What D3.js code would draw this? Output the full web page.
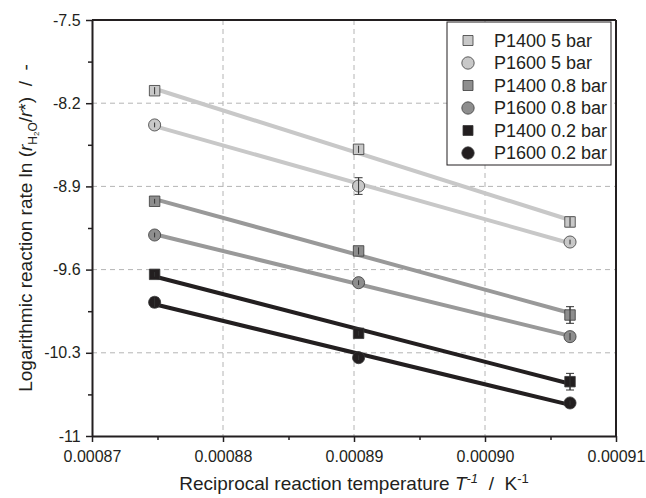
<!DOCTYPE html>
<html><head><meta charset="utf-8">
<script src="https://cdn.jsdelivr.net/npm/d3@7"></script>
<style>
body{margin:0;background:#fff;}
text{font-family:"Liberation Sans",Arial,sans-serif;}
</style></head>
<body><svg id="c" width="646" height="498"></svg>
<script>
const xValues = [0.00087478, 0.00089035, 0.00090649];
const seriesNames = ["P1400 5 bar","P1600 5 bar","P1400 0.8 bar","P1600 0.8 bar","P1400 0.2 bar","P1600 0.2 bar"];
const seriesShapes = ["square","circle","square","circle","square","circle"];
const seriesFill = ["#c8c8c8","#c8c8c8","#8e8e8e","#8e8e8e","#231f20","#231f20"];
const seriesLine = ["#c8c8c8","#c8c8c8","#999999","#999999","#231f20","#231f20"];
const yP1400_5 = [-8.095, -8.588, -9.199];
const yP1600_5 = [-8.383, -8.897, -9.368];
const yP1400_08 = [-9.025, -9.443, -9.982];
const yP1600_08 = [-9.309, -9.710, -10.164];
const yP1400_02 = [-9.640, -10.136, -10.543];
const yP1600_02 = [-9.875, -10.341, -10.722];
const err1400_5 = [0.03, 0.03, 0.04];
const err1600_5 = [0.02, 0.07, 0.02];
const err1400_08 = [0.02, 0.03, 0.07];
const err1600_08 = [0.02, 0.02, 0.03];
const err1400_02 = [0.02, 0.02, 0.07];
const err1600_02 = [0.04, 0.02, 0.02];
const xTicks = [0.00087, 0.00088, 0.00089, 0.00090, 0.00091];
const xTickLabels = ["0.00087","0.00088","0.00089","0.00090","0.00091"];
const yTicks = [-7.5, -8.2, -8.9, -9.6, -10.3, -11];
const yTickLabels = ["-7.5","-8.2","-8.9","-9.6","-10.3","-11"];

const seriesY = [yP1400_5, yP1600_5, yP1400_08, yP1600_08, yP1400_02, yP1600_02];
const seriesErr = [err1400_5, err1600_5, err1400_08, err1600_08, err1400_02, err1600_02];

const svg = d3.select("#c");
const L = 92, R = 616, T = 20, B = 436;
const x = d3.scaleLinear().domain([0.00087, 0.00091]).range([L, R]);
const y = d3.scaleLinear().domain([-11, -7.5]).range([B, T]);

// grid
const g = svg.append("g");
g.selectAll(".gx").data(xTicks.slice(1, -1)).enter().append("line")
  .attr("x1", d => x(d)).attr("x2", d => x(d)).attr("y1", T).attr("y2", B)
  .attr("stroke", "#b4b4b4").attr("stroke-width", 1).attr("stroke-dasharray", "5,4");
g.selectAll(".gy").data(yTicks.slice(1, -1)).enter().append("line")
  .attr("y1", d => y(d)).attr("y2", d => y(d)).attr("x1", L).attr("x2", R)
  .attr("stroke", "#b4b4b4").attr("stroke-width", 1).attr("stroke-dasharray", "5,4");

// fit lines
function fit(xs, ys) {
  const mx = d3.mean(xs), my = d3.mean(ys);
  let sxy = 0, sxx = 0;
  xs.forEach((v, i) => { sxy += (v - mx) * (ys[i] - my); sxx += (v - mx) * (v - mx); });
  const b = sxy / sxx; return [b, my - b * mx];
}
seriesY.forEach((ys, i) => {
  const [b, a] = fit(xValues, ys);
  const x0 = xValues[0], x1 = xValues[xValues.length - 1];
  svg.append("line").attr("x1", x(x0)).attr("x2", x(x1))
    .attr("y1", y(a + b * x0)).attr("y2", y(a + b * x1))
    .attr("stroke", seriesLine[i]).attr("stroke-width", 4);
});

// error bars and markers
seriesY.forEach((ys, i) => {
  const gg = svg.append("g");
  ys.forEach((v, j) => {
    const e = seriesErr[i][j], cx = x(xValues[j]);
    gg.append("line").attr("x1", cx).attr("x2", cx).attr("y1", y(v - e)).attr("y2", y(v + e))
      .attr("stroke", "#333").attr("stroke-width", 1);
    [v - e, v + e].forEach(w => gg.append("line").attr("x1", cx - 4).attr("x2", cx + 4)
      .attr("y1", y(w)).attr("y2", y(w)).attr("stroke", "#333").attr("stroke-width", 1));
  });
  const sym = d3.symbol().type(seriesShapes[i] === "square" ? d3.symbolSquare : d3.symbolCircle)
    .size(seriesShapes[i] === "square" ? 110 : 115);
  gg.selectAll("path.m").data(ys).enter().append("path")
    .attr("transform", (v, j) => `translate(${x(xValues[j])},${y(v)})`)
    .attr("d", sym).attr("fill", seriesFill[i]).attr("stroke", "#3a3a3a").attr("stroke-width", 0.8);
  ys.forEach((v, j) => {
    const e = seriesErr[i][j], cx = x(xValues[j]);
    gg.append("line").attr("x1", cx).attr("x2", cx).attr("y1", y(v - e)).attr("y2", y(v + e))
      .attr("stroke", "#333").attr("stroke-width", 1);
  });
});

// axes
const xAxis = d3.axisBottom(x).tickValues(xTicks).tickFormat((d, i) => xTickLabels[i]).tickSize(6).tickSizeOuter(0);
const gx = svg.append("g").attr("transform", `translate(0,${B})`).call(xAxis);
const xMinor = d3.axisBottom(x).tickValues([0.000875, 0.000885, 0.000895, 0.000905]).tickFormat("").tickSize(4).tickSizeOuter(0);
svg.append("g").attr("transform", `translate(0,${B})`).call(xMinor).select(".domain").remove();
const yAxis = d3.axisLeft(y).tickValues(yTicks).tickFormat((d, i) => yTickLabels[i]).tickSize(6).tickSizeOuter(0);
const gy = svg.append("g").attr("transform", `translate(${L},0)`).call(yAxis);
const yMinor = d3.axisLeft(y).tickValues([-7.85, -8.55, -9.25, -9.95, -10.65]).tickFormat("").tickSize(4).tickSizeOuter(0);
svg.append("g").attr("transform", `translate(${L},0)`).call(yMinor).select(".domain").remove();
svg.selectAll(".tick line").attr("stroke", "#231f20").attr("stroke-width", 1.5);
svg.selectAll(".domain").attr("stroke", "#231f20").attr("stroke-width", 2);
gx.selectAll("text").attr("font-size", 16).attr("fill", "#231f20").attr("dy", "1.06em");
gy.selectAll("text").attr("font-size", 16).attr("fill", "#231f20").attr("dx", "-0.15em");
// frame top/right
svg.append("line").attr("x1", L).attr("x2", R).attr("y1", T).attr("y2", T).attr("stroke", "#231f20").attr("stroke-width", 2);
svg.append("line").attr("x1", R).attr("x2", R).attr("y1", T).attr("y2", B).attr("stroke", "#231f20").attr("stroke-width", 2);

// legend
const lg = svg.append("g");
lg.append("rect").attr("x", 447).attr("y", 22).attr("width", 164).attr("height", 143)
  .attr("fill", "#fff").attr("stroke", "#231f20").attr("stroke-width", 1);
seriesNames.forEach((n, i) => {
  const cy = 40.5 + i * 22.5;
  const sym = d3.symbol().type(seriesShapes[i] === "square" ? d3.symbolSquare : d3.symbolCircle)
    .size(seriesShapes[i] === "square" ? 100 : 120);
  lg.append("path").attr("transform", `translate(468,${cy})`).attr("d", sym)
    .attr("fill", seriesFill[i]).attr("stroke", "#3a3a3a").attr("stroke-width", 0.8);
  lg.append("text").attr("x", 494).attr("y", cy).attr("dy", "0.36em").attr("font-size", 18)
    .attr("fill", "#231f20").text(n);
});

// axis titles
const xt = svg.append("text").attr("x", 354).attr("y", 490).attr("text-anchor", "middle")
  .attr("font-size", 19).attr("fill", "#231f20").attr("xml:space", "preserve");
xt.append("tspan").text("Reciprocal reaction temperature ");
xt.append("tspan").attr("font-style", "italic").text("T");
xt.append("tspan").attr("font-style", "italic").attr("font-size", 13).attr("dy", -7).text("-1");
xt.append("tspan").attr("dy", 7).text("  /  K");
xt.append("tspan").attr("font-size", 13).attr("dy", -7).text("-1");

const yt = svg.append("text").attr("transform", "translate(32,228) rotate(-90)").attr("text-anchor", "middle")
  .attr("font-size", 19).attr("fill", "#231f20").attr("xml:space", "preserve");
yt.append("tspan").text("Logarithmic reaction rate ln (");
yt.append("tspan").attr("font-style", "italic").text("r");
yt.append("tspan").attr("font-size", 12).attr("dy", 5).text("H");
yt.append("tspan").attr("font-size", 8).attr("dy", 2).text("2");
yt.append("tspan").attr("font-size", 12).attr("dy", -2).text("O");
yt.append("tspan").attr("dy", -5).text("/");
yt.append("tspan").attr("font-style", "italic").text("r");
yt.append("tspan").text("*)  /  -");
</script></body></html>
